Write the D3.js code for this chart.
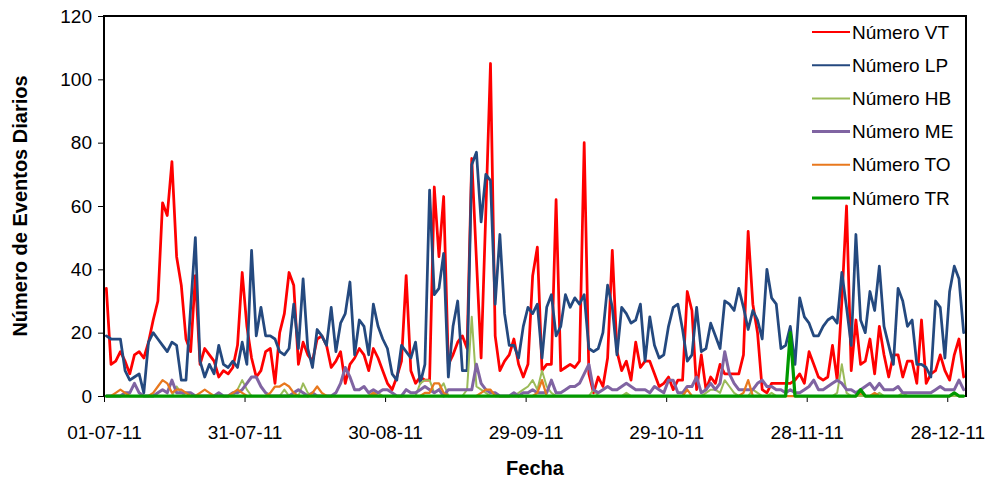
<!DOCTYPE html>
<html>
<head>
<meta charset="utf-8">
<script src="https://cdn.jsdelivr.net/npm/d3@7"></script>
<style>
  body { margin: 0; background: #fff; }
  svg text { font-family: "Liberation Sans", Arial, sans-serif; fill: #000; }
</style>
</head>
<body>
<svg id="chart" width="994" height="481"></svg>
<script>
// Daily event counts, 1 Jul 2011 onwards (one value per day)
const startDate = "2011-07-01";
const tickDates = ["2011-07-01", "2011-07-31", "2011-08-30", "2011-09-29", "2011-10-29", "2011-11-28", "2011-12-28"];
const yTicks = [0, 20, 40, 60, 80, 100, 120];

const seriesNames = ["Número VT", "Número LP", "Número HB", "Número ME", "Número TO", "Número TR"];
const seriesColors = ["#FF0000", "#24497F", "#9BBB59", "#8064A2", "#E8781E", "#009900"];
const lineWidths = [2.75, 2.75, 2, 3, 2.25, 3.25];
const keyWidths = [2, 2, 2, 3, 2, 3];

const vt = [34,10,11,14,11,7,13,14,12,17,
  24,30,61,57,74,44,35,18,14,38,
  10,15,13,11,6,8,7,9,16,39,
  22,12,6,8,14,15,4,20,26,39,
  35,10,17,13,11,18,19,16,9,11,
  14,4,10,12,15,13,8,15,12,8,
  4,2,6,11,38,8,4,6,5,5,
  66,44,63,10,13,17,19,15,75,43,
  12,58,105,19,8,11,13,18,10,6,
  10,38,47,8,10,10,62,8,9,10,
  9,11,80,7,1,6,3,12,46,14,
  8,11,5,17,9,11,11,7,3,4,
  6,2,5,5,33,27,2,13,2,6,
  4,10,7,7,7,7,13,52,29,20,
  2,1,4,4,4,4,4,5,7,4,
  14,10,6,5,6,16,5,30,60,8,
  24,10,11,18,7,22,13,6,13,13,
  6,11,11,4,24,4,7,8,13,8,
  5,13,18,6];

const lp = [19,18,18,18,8,5,6,7,1,17,
  20,18,16,14,17,16,5,5,28,50,
  11,6,10,7,16,10,9,11,9,17,
  10,46,19,28,19,19,18,14,13,15,
  29,15,37,15,9,21,19,16,28,14,
  23,26,36,13,24,22,13,29,22,18,
  15,7,5,16,14,12,17,4,10,65,
  32,34,45,6,22,30,8,8,73,77,
  55,70,68,29,51,26,16,16,12,22,
  28,26,29,12,28,32,19,22,32,28,
  31,29,32,15,14,15,20,35,28,13,
  28,26,23,24,29,11,25,16,12,13,
  22,28,29,21,11,13,28,14,15,23,
  19,15,30,29,27,34,28,21,27,24,
  18,40,31,29,15,16,22,10,31,25,
  23,19,19,22,24,25,23,39,28,16,
  51,24,20,33,27,41,22,16,10,34,
  30,22,24,10,10,9,6,30,28,12,
  33,41,37,20];

const hb = [0,0,0,0,0,0,0,0,0,0,
  0,0,0,0,0,3,1,0,0,0,
  0,0,0,0,0,0,0,0,2,5,
  2,0,0,0,0,0,0,0,2,0,
  0,0,4,1,0,0,0,0,0,0,
  0,0,0,0,0,0,0,1,1,0,
  0,0,0,0,0,0,0,4,5,5,
  1,2,4,0,0,0,0,2,25,3,
  2,1,0,0,0,0,0,0,1,2,
  3,5,2,8,3,1,0,0,0,0,
  0,0,0,0,2,0,0,0,0,0,
  0,1,0,0,0,0,0,0,0,0,
  0,0,0,0,0,0,0,0,1,2,
  2,1,5,3,1,0,0,0,2,1,
  0,0,1,0,0,0,0,0,0,0,
  0,0,0,0,0,0,1,10,1,0,
  0,0,0,0,0,1,0,0,0,0,
  1,0,0,0,0,0,0,0,0,0,
  0,0,0,0];

const me = [0,0,0,0,1,1,4,1,0,0,
  0,1,2,1,5,1,1,1,1,0,
  0,0,0,0,1,0,0,1,1,2,
  4,6,6,3,1,0,0,0,0,0,
  1,2,1,0,1,0,0,0,0,1,
  4,9,6,2,2,3,1,2,1,2,
  2,1,0,0,2,1,1,2,3,2,
  1,2,0,2,2,2,2,2,2,10,
  4,2,1,1,0,0,0,1,0,1,
  1,2,1,1,1,5,1,1,2,3,
  3,4,7,10,2,1,2,3,2,2,
  3,4,3,2,2,2,1,3,2,1,
  5,5,1,1,3,3,6,1,2,4,
  2,4,14,7,4,2,2,2,2,4,
  5,3,3,2,2,1,2,1,1,2,
  3,5,2,2,3,4,5,4,2,2,
  1,2,3,4,2,4,2,2,2,3,
  1,1,1,1,1,1,1,2,3,2,
  2,2,5,2];

const to = [0,0,1,2,1,0,0,0,0,0,
  1,3,5,4,1,2,2,1,0,0,
  1,2,1,0,0,0,0,1,2,1,
  0,0,0,0,0,1,3,3,4,3,
  1,0,0,0,1,3,1,0,0,0,
  0,0,0,0,0,0,0,1,0,0,
  0,0,0,0,0,0,0,0,1,1,
  4,4,1,0,0,0,0,0,0,0,
  1,2,2,0,0,0,0,0,0,0,
  0,0,1,5,0,0,0,0,0,0,
  0,0,0,0,0,0,0,0,0,0,
  0,0,0,0,0,0,0,0,0,0,
  0,0,0,0,2,0,0,0,0,0,
  0,0,0,0,0,0,1,5,0,0,
  0,0,0,0,0,0,0,0,0,0,
  0,0,0,0,0,0,0,0,0,0,
  0,1,0,0,1,0,0,0,0,0,
  0,0,0,0,0,0,0,0,0,0,
  0,1,0,0];

const tr = [0,0,0,0,0,0,0,0,0,0,
  0,0,0,0,0,0,0,0,0,0,
  0,0,0,0,0,0,0,0,0,0,
  0,0,0,0,0,0,0,0,0,0,
  0,0,0,0,0,0,0,0,0,0,
  0,0,0,0,0,0,0,0,0,0,
  0,0,0,0,0,0,0,0,0,0,
  0,0,0,0,0,0,0,0,0,0,
  0,0,0,0,0,0,0,0,0,0,
  0,0,0,0,0,0,0,0,0,0,
  0,0,0,0,0,0,0,0,0,0,
  0,0,0,0,0,0,0,0,0,0,
  0,0,0,0,0,0,0,0,0,0,
  0,0,0,0,0,0,0,0,0,0,
  0,0,0,0,0,0,20,0,0,0,
  0,0,0,0,0,0,0,0,0,0,
  0,2,0,0,0,0,0,0,0,0,
  0,0,0,0,0,0,0,0,0,0,
  0,1,0,0];

const seriesValues = [vt, lp, hb, me, to, tr];

// ---- layout ----
const W = 994, H = 481;
const plot = { left: 104, right: 966, top: 16, bottom: 396 };

const parseDay = d3.utcParse("%Y-%m-%d");
const fmtDay = d3.utcFormat("%d-%m-%y");
const t0 = parseDay(startDate);
const nDays = vt.length;

// each day occupies one slot; points sit at the middle of their slot
const x = d3.scaleUtc()
  .domain([t0, d3.utcDay.offset(t0, nDays)])
  .range([plot.left, plot.right]);
const y = d3.scaleLinear()
  .domain([0, 120])
  .range([plot.bottom, plot.top]);

const svg = d3.select("#chart");
svg.append("rect").attr("width", W).attr("height", H).attr("fill", "#fff");

// axes
const xAxis = d3.axisBottom(x)
  .tickValues(tickDates.map(parseDay))
  .tickFormat(fmtDay)
  .tickSize(6)
  .tickPadding(8);
const gx = svg.append("g")
  .attr("transform", `translate(0,${plot.bottom})`)
  .call(xAxis);
gx.select(".domain").remove();
gx.selectAll(".tick line").attr("stroke", "#000").attr("stroke-width", 1);
gx.selectAll(".tick text")
  .attr("font-size", 19)
  .attr("dy", null)
  .attr("y", 43);

const yAxis = d3.axisLeft(y)
  .tickValues(yTicks)
  .tickSize(6)
  .tickPadding(6);
const gy = svg.append("g")
  .attr("transform", `translate(${plot.left},0)`)
  .call(yAxis);
gy.select(".domain").remove();
gy.selectAll(".tick line").attr("stroke", "#000").attr("stroke-width", 1);
gy.selectAll(".tick text").attr("font-size", 19);

// plot frame
svg.append("rect")
  .attr("x", plot.left).attr("y", plot.top)
  .attr("width", plot.right - plot.left)
  .attr("height", plot.bottom - plot.top)
  .attr("fill", "none")
  .attr("stroke", "#000")
  .attr("stroke-width", 2);

// series lines
const line = d3.line()
  .x((d, i) => x(d3.utcHour.offset(d3.utcDay.offset(t0, i), 12)))
  .y(d => y(d));

seriesValues.forEach((vals, k) => {
  svg.append("path")
    .datum(vals)
    .attr("fill", "none")
    .attr("stroke", seriesColors[k])
    .attr("stroke-width", lineWidths[k])
    .attr("stroke-linejoin", "round")
    .attr("stroke-linecap", "round")
    .attr("d", line);
});

// legend
const legend = svg.append("g").attr("transform", "translate(812,32)");
seriesNames.forEach((name, k) => {
  const g = legend.append("g").attr("transform", `translate(0,${k * 33.2})`);
  g.append("line")
    .attr("x1", 0).attr("x2", 38)
    .attr("stroke", seriesColors[k])
    .attr("stroke-width", keyWidths[k]);
  g.append("text")
    .attr("x", 40).attr("y", 0)
    .attr("dy", "0.35em")
    .attr("font-size", 19)
    .text(name);
});

// axis titles
svg.append("text")
  .attr("x", (plot.left + plot.right) / 2)
  .attr("y", 475)
  .attr("text-anchor", "middle")
  .attr("font-size", 20)
  .attr("font-weight", "bold")
  .text("Fecha");

svg.append("text")
  .attr("transform", `translate(27,${(plot.top + plot.bottom) / 2}) rotate(-90)`)
  .attr("text-anchor", "middle")
  .attr("font-size", 20)
  .attr("font-weight", "bold")
  .text("Número de Eventos Diarios");
</script>
</body>
</html>
